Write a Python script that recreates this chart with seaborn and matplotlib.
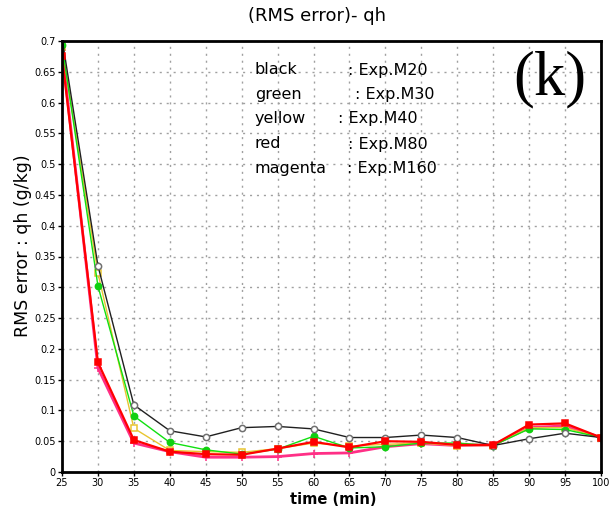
import matplotlib
matplotlib.use("Agg")
import matplotlib.pyplot as plt
import seaborn as sns
import pandas as pd
import numpy as np

time_min = [25, 30, 35, 40, 45, 50, 55, 60, 65, 70, 75, 80, 85, 90, 95, 100]
exp_m20 = [0.705, 0.335, 0.109, 0.067, 0.057, 0.072, 0.074, 0.070, 0.056, 0.056, 0.060, 0.056, 0.043, 0.054, 0.063, 0.056]
exp_m30 = [0.693, 0.302, 0.091, 0.048, 0.036, 0.029, 0.037, 0.058, 0.039, 0.041, 0.047, 0.047, 0.043, 0.070, 0.069, 0.056]
exp_m40 = [0.690, 0.323, 0.071, 0.035, 0.033, 0.032, 0.038, 0.047, 0.042, 0.045, 0.047, 0.043, 0.043, 0.072, 0.072, 0.056]
exp_m80 = [0.675, 0.178, 0.052, 0.033, 0.029, 0.028, 0.038, 0.049, 0.040, 0.050, 0.049, 0.044, 0.044, 0.077, 0.079, 0.056]
exp_m160 = [0.685, 0.169, 0.047, 0.033, 0.024, 0.024, 0.025, 0.030, 0.031, 0.041, 0.046, 0.043, 0.044, 0.072, 0.075, 0.056]

legend_names = ["black", "green", "yellow", "red", "magenta"]
legend_exps = [": Exp.M20", ": Exp.M30", ": Exp.M40", ": Exp.M80", ": Exp.M160"]
title = "(RMS error)- qh"
ylabel = "RMS error : qh (g/kg)"
xlabel = "time (min)"
panel = "(k)"
ytick_vals = [0, 0.05, 0.1, 0.15, 0.2, 0.25, 0.3, 0.35, 0.4, 0.45, 0.5, 0.55, 0.6, 0.65, 0.7]
ytick_labels = ["0", "0.05", "0.1", "0.15", "0.2", "0.25", "0.3", "0.35", "0.4", "0.45", "0.5", "0.55", "0.6", "0.65", "0.7"]

sns.set_theme(style="white")
plt.rcParams['font.family'] = ['DejaVu Sans']
plt.rcParams['text.color'] = 'black'
plt.rcParams['xtick.color'] = 'black'
plt.rcParams['ytick.color'] = 'black'

fig = plt.figure(figsize=(6.11, 5.13), dpi=100)
ax = fig.add_axes([62/611, 1-472/513, (601-62)/611, (472-41)/513])

series = [
    (exp_m160, "#ff2f86", "+", "#ff2f86", "#ff2f86", 2.0, 5.5),
    (exp_m40, "#e8c530", "s", "white", "#e8c530", 1.0, 4.5),
    (exp_m30, "#10e010", "o", "#10d010", "#10d010", 1.0, 4.5),
    (exp_m20, "#202020", "o", "white", "#707070", 1.0, 4.5),
    (exp_m80, "#ff0000", "s", "#ff0000", "#ff0000", 1.6, 4.0),
]
for vals, col, mk, mfc, mec, lw, ms in series:
    df = pd.DataFrame({"t": time_min, "v": vals})
    sns.lineplot(data=df, x="t", y="v", ax=ax, color=col, marker=mk,
                 markerfacecolor=mfc, markeredgecolor=mec, markersize=ms,
                 markeredgewidth=1.1, linewidth=lw, clip_on=True)

ax.set_xlim(25, 100)
ax.set_ylim(0, 0.7)
ax.set_xticks(time_min)
ax.set_xticklabels([str(t) for t in time_min], fontsize=7)
ax.set_yticks(ytick_vals)
ax.set_yticklabels(ytick_labels, fontsize=7)
ax.tick_params(axis="both", direction="out", length=3, width=1, color="black", pad=1.5, left=True, bottom=True)
ax.grid(True, color="#a0a0a0", linestyle=(0, (1.5, 3.5)), linewidth=1)
for s in ax.spines.values():
    s.set_color("black")
    s.set_linewidth(2)
ax.set_xlabel("")
ax.set_ylabel("")

fig.text(317/611, 1-16/513, title, fontsize=13, ha="center", va="center", color="black")
fig.text(23/611, 1-246/513, ylabel, fontsize=12.5, rotation=90, ha="center", va="center", color="black")
fig.text(333/611, 1-499/513, xlabel, fontsize=10.5, fontweight="bold", ha="center", va="center", color="black")

name_y = [70, 94, 119, 144, 168]
colon_x = [348, 355, 338, 348, 347]
for nm, ex, yy, cx in zip(legend_names, legend_exps, name_y, colon_x):
    fig.text(255/611, 1-yy/513, nm, fontsize=11.5, ha="left", va="center", color="black")
    fig.text(cx/611, 1-yy/513, ex, fontsize=11.5, ha="left", va="center", color="black")

fig.text(550/611, 1-79/513, panel, fontsize=45, family="Liberation Serif", ha="center", va="center", color="black")

fig.savefig("out.png", dpi=100)
